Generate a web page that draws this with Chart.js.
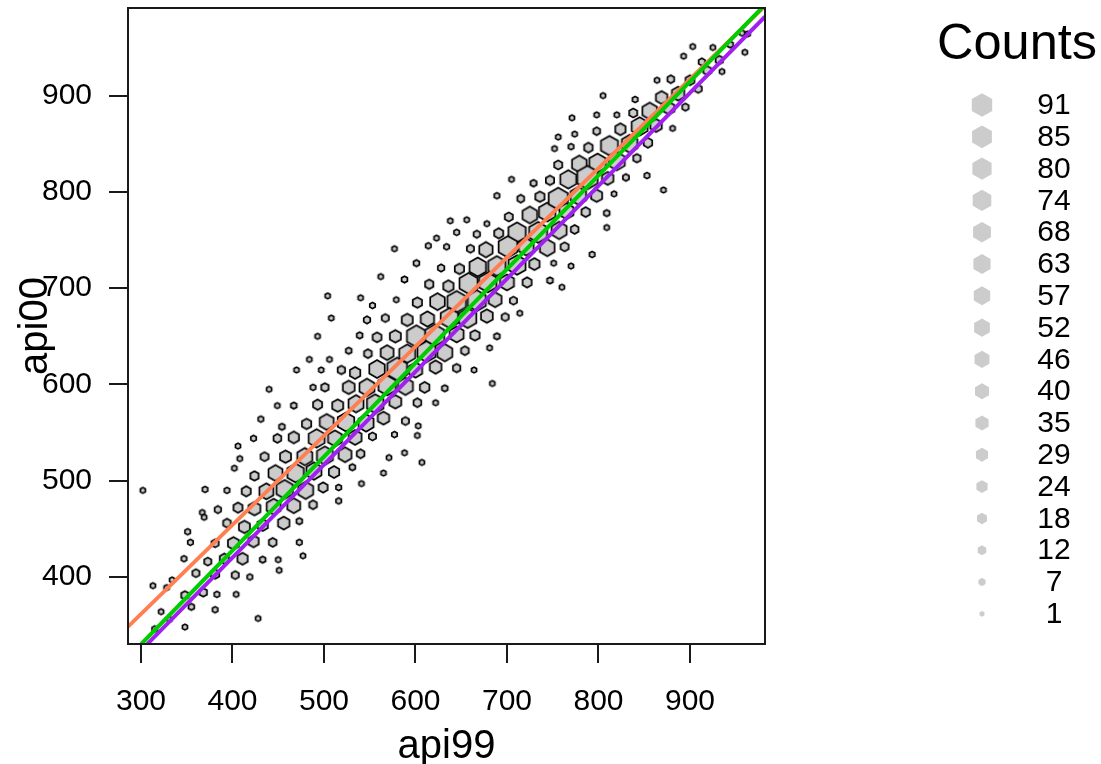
<!DOCTYPE html>
<html lang="en">
<head>
    <meta charset="UTF-8">
    <title>api00 vs api99</title>
    <script src="https://cdn.jsdelivr.net/npm/chart.js"></script>
    <style>
        body { margin: 0; background: #fff; }
        canvas { display: block; }
    </style>
</head>
<body>
<canvas id="hexChart" width="1101" height="764"></canvas>

<script>
    // hexagon centroids
    const hexX = [302,370,394,415,437,457,480,499,516,516,488,467,445,424,406,384,367,369,394,413,433,456,473,351,354,381,401,423,444,473,347,373,391,411,433,450,477,360,381,403,419,451,334,328,313,348,368,383,404,322,355,381,331,428,315,348,454,423,449,467,492,512,406,408,435,458,479,501,523,402,424,447,469,489,511,
        504,540,553,579,508,547,567,493,539,558,578,527,548,569,484,506,470,497,519,534,558,580,440,488,501,527,547,569,449,467,493,515,535,556,578,602,622,431,481,503,524,546,565,589,603,534,553,577,602,540,571,588,607,531,565,541,577,562,
        705,729,747,689,715,736,702,725,744,638,656,678,645,667,691,711,734,757,774,809,623,614,634,660,677,701,721,744,763,793,601,628,648,668,689,711,730,751,770,588,615,636,658,679,700,722,747,760,602,624,645,667,687,707,714,591,613,637,657,678,698,601,621,645,665,689,591,612,632,654,681,600,622,645,664,589,610,632,684,
        903,925,944,957,963,893,913,932,960,919,935,864,879,900,887,909,805,840,869,895,771,798,820,838,856,877,824,845,863,881,798,756,774,752,770,789,812,834,854,756,779,799,820,842,767,788,810,830,853,756,778,798,817,871,765,786,809];
    const hexY = [490,491,490,489,489,491,490,493,493,479,475,474,473,471,472,470,467,462,456,452,454,456,458,447,436,435,435,437,436,436,419,416,419,419,418,418,422,404,403,402,400,407,397,389,391,381,384,382,382,364,369,366,356,357,346,348,556,544,544,545,544,544,536,523,525,525,525,526,527,513,505,508,508,510,509,
        692,690,682,688,669,667,669,650,651,649,650,635,632,633,626,626,615,615,615,612,616,616,595,597,597,597,597,599,578,578,579,578,580,580,582,581,581,564,559,561,561,560,565,562,557,545,546,548,547,528,524,529,519,514,508,497,741,712,
        813,809,812,796,793,795,774,776,779,770,771,767,758,756,757,758,758,760,761,763,752,744,743,741,740,743,743,742,743,735,726,721,720,722,723,724,725,726,723,709,704,702,705,706,706,706,708,701,685,686,686,687,688,687,674,667,668,669,669,671,670,650,651,652,651,650,632,634,633,635,638,615,618,617,615,598,597,596,601,
        951,950,953,965,964,941,935,937,945,926,925,916,917,916,902,907,900,896,898,888,877,880,880,882,884,887,865,868,869,866,863,857,860,845,847,846,848,850,851,828,829,830,832,835,813,815,814,815,817,793,796,796,798,802,780,779,778];
    const hexCounts = [1,2,2,14,40,58,47,14,2,2,9,33,40,27,14,5,1,1,9,23,20,25,3,2,2,7,23,20,9,2,2,7,14,20,3,1,1,7,11,7,2,1,1,1,1,8,8,2,1,1,3,2,1,1,2,1,3,2,9,20,54,40,1,1,10,23,47,54,33,1,11,40,58,47,20,
        1,1,2,1,1,5,7,1,3,13,23,3,9,33,1,1,1,1,8,20,50,85,1,2,8,27,47,65,1,3,14,23,47,58,27,9,1,2,15,40,58,47,25,7,1,33,7,2,1,9,1,1,1,3,1,1,1,1,
        1,4,11,2,6,15,10,44,58,1,1,1,2,5,14,65,70,47,9,1,1,2,2,7,36,75,47,44,10,2,3,5,15,58,65,62,20,1,1,3,11,20,70,65,40,14,3,1,15,44,75,70,33,7,1,23,36,65,65,27,7,78,78,40,15,3,54,70,47,9,1,36,26,8,1,47,16,3,1,
        1,1,3,2,1,1,5,8,1,10,1,1,6,13,30,7,1,2,25,5,1,1,1,10,44,23,20,54,25,1,6,1,1,1,2,12,62,50,12,10,44,58,54,8,54,91,25,4,2,80,50,23,1,1,40,12,3];

    // fitted lines, two ends each
    const purpleX = [305.8, 982];
    const purpleY = [329.3, 982.1];
    const orangeX = [285.8, 982];
    const orangeY = [348.4, 993];
    const greenX = [300.3, 982];
    const greenY = [330.4, 994.4];

    const xTicks = [300, 400, 500, 600, 700, 800, 900];
    const yTicks = [400, 500, 600, 700, 800, 900];
    const legendCounts = [91, 85, 80, 74, 68, 63, 57, 52, 46, 40, 35, 29, 24, 18, 12, 7, 1];

    const FONT = '"Liberation Sans", Arial, sans-serif';
    const MAX_COUNT = 91;
    const MAX_RADIUS = 11.8;

    // hexbin centroid style: area grows with the count, with a minimum area
    function hexRadius(count) {
        return MAX_RADIUS * Math.sqrt(0.06 + 0.94 * (count - 1) / (MAX_COUNT - 1));
    }

    function hexPath(ctx, cx, cy, r) {
        ctx.beginPath();
        for (let i = 0; i < 6; i++) {
            const a = Math.PI / 6 + i * Math.PI / 3;
            const px = cx + r * Math.cos(a);
            const py = cy + r * Math.sin(a);
            if (i === 0) ctx.moveTo(px, py); else ctx.lineTo(px, py);
        }
        ctx.closePath();
    }

    const hexCache = {};
    function hexImage(count) {
        if (!hexCache[count]) {
            const c = document.createElement('canvas');
            const r = hexRadius(count);
            c.width = c.height = Math.ceil(r * 2 + 8);
            const g = c.getContext('2d');
            hexPath(g, c.width / 2, c.height / 2, r);
            g.fillStyle = '#cccccc';
            g.fill();
            g.strokeStyle = '#000';
            g.lineWidth = 1.7;
            g.stroke();
            hexCache[count] = c;
        }
        return hexCache[count];
    }

    function pairs(xs, ys) {
        return xs.map((x, i) => ({ x: x, y: ys[i] }));
    }

    function lineSet(label, xs, ys, color, order) {
        return {
            label: label,
            data: pairs(xs, ys),
            showLine: true,
            borderColor: color,
            borderWidth: 4,
            pointRadius: 0,
            order: order
        };
    }

    // R style box round the plot and the Counts legend on the right
    const extras = {
        id: 'extras',
        afterDraw(chart) {
            const ctx = chart.ctx;
            const area = chart.chartArea;
            ctx.save();
            ctx.strokeStyle = '#1a1a1a';
            ctx.lineWidth = 2;
            ctx.strokeRect(area.left, area.top, area.right - area.left, area.bottom - area.top);

            ctx.fillStyle = '#000';
            ctx.textBaseline = 'middle';
            ctx.textAlign = 'left';
            ctx.font = '50.5px ' + FONT;
            ctx.fillText('Counts', 937, 45);

            ctx.font = '30px ' + FONT;
            ctx.textAlign = 'center';
            legendCounts.forEach((count, i) => {
                const y = 105 + i * 31.8;
                hexPath(ctx, 982, y, hexRadius(count));
                ctx.fillStyle = '#cccccc';
                ctx.fill();
                ctx.fillStyle = '#000';
                ctx.fillText(String(count), 1054, y + 1);
            });
            ctx.restore();
        }
    };

    function axisOptions(min, max, ticks, title, tickPadding, fit, titlePadding) {
        return {
            type: 'linear',
            min: min,
            max: max,
            afterBuildTicks(scale) {
                scale.ticks = ticks.map(v => ({ value: v }));
            },
            afterFit: fit,
            grid: {
                drawOnChartArea: false,
                drawTicks: true,
                tickLength: 19,
                color: '#1a1a1a',
                lineWidth: 2
            },
            border: { display: false },
            ticks: {
                autoSkip: false,
                maxRotation: 0,
                color: '#000',
                padding: tickPadding,
                font: { family: FONT, size: 30 }
            },
            title: {
                display: true,
                text: title,
                color: '#000',
                padding: titlePadding,
                font: { family: FONT, size: 40 }
            }
        };
    }

    new Chart(document.getElementById('hexChart').getContext('2d'), {
        type: 'scatter',
        data: {
            datasets: [
                {
                    label: 'Counts',
                    data: pairs(hexX, hexY),
                    pointStyle: ctx => hexImage(hexCounts[ctx.dataIndex]),
                    pointRadius: 6,
                    order: 4
                },
                lineSet('purple', purpleX, purpleY, '#a020f0', 3),
                lineSet('orange', orangeX, orangeY, '#ff7f50', 2),
                lineSet('green', greenX, greenY, '#00cd00', 1)
            ]
        },
        options: {
            responsive: false,
            animation: false,
            layout: { padding: { top: 8, right: 336, bottom: 0, left: 0 } },
            plugins: { legend: { display: false }, tooltip: { enabled: false } },
            scales: {
                x: axisOptions(285.8, 982, xTicks, 'api99', 21, s => {
                    s.height = 120;
                    s.paddingLeft = 0;
                    s.paddingRight = 0;
                }, { top: 0, bottom: -7 }),
                y: axisOptions(330.4, 991, yTicks, 'api00', 17, s => {
                    s.width = 128;
                    s.paddingTop = 0;
                    s.paddingBottom = 0;
                }, { top: 12, bottom: 0 })
            }
        },
        plugins: [extras]
    });
</script>
</body>
</html>
